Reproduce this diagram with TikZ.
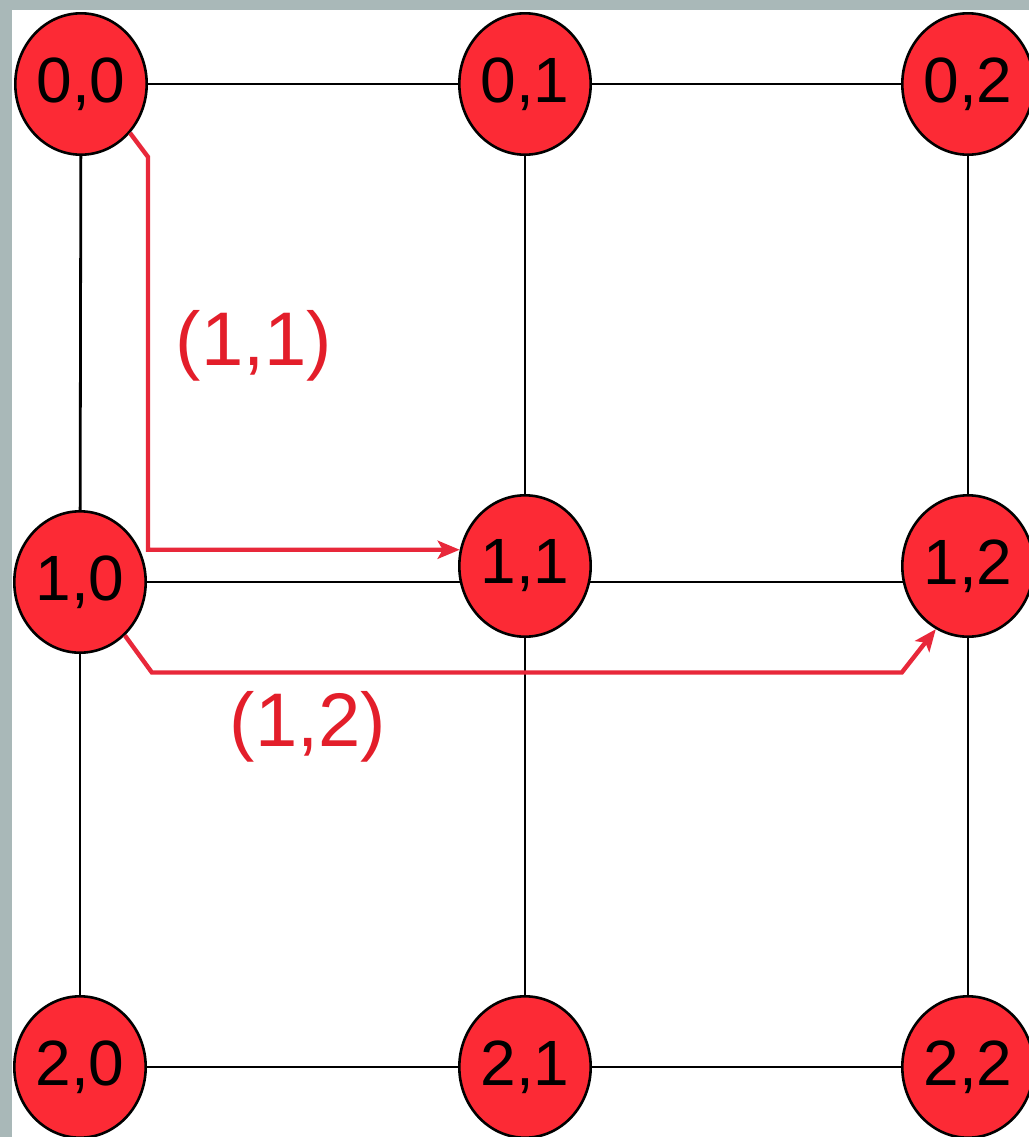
\documentclass[tikz,border=0pt]{standalone}
\usepackage{fontspec}
\setmainfont{Liberation Sans}
\usetikzlibrary{shapes.geometric,arrows.meta,calc,backgrounds}
\definecolor{framegray}{HTML}{A9B8B8}
\definecolor{nodered}{HTML}{FC2A35}
\definecolor{pathred}{HTML}{E8283A}
\definecolor{labelred}{HTML}{E31E2A}
\tikzset{
  cell/.style={ellipse, draw=black, line width=1.3pt, fill=nodered,
    minimum width=65.7pt, minimum height=70.7pt, inner sep=0pt,
    font=\fontsize{32}{32}\selectfont},
  grid/.style={draw=black, line width=1.4pt},
  rpath/.style={draw=pathred, line width=2.2pt, line join=miter,
    -{Stealth[length=11pt,width=9pt,inset=2.5pt]}},
  rlabel/.style={text=labelred, font=\fontsize{38}{38}\selectfont, inner sep=0pt}
}
\begin{document}
\begin{tikzpicture}[x=0.5pt,y=-0.5pt]
\useasboundingbox (0,0) rectangle (1029,1137);

\node[cell] (n00) at (81,84)   {0,0};
\node[cell] (n01) at (525,84)  {0,1};
\node[cell] (n02) at (968,84)  {0,2};
\node[cell] (n10) at (80,582)  {1,0};
\node[cell] (n11) at (525,566) {1,1};
\node[cell] (n12) at (968,566) {1,2};
\node[cell] (n20) at (80,1067) {2,0};
\node[cell] (n21) at (525,1067){2,1};
\node[cell] (n22) at (968,1067){2,2};

\node[rlabel] (l11) at (254,346) {(1,1)};
\node[rlabel] (l12) at (308,727) {(1,2)};

\begin{scope}[on background layer]
  \fill[framegray] (0,0) rectangle (1029,1137);
  \fill[white] (12,10) rectangle (1029,1137);
  \draw[grid] (n00) -- (n01);
  \draw[grid] (n01) -- (n02);
  \draw[grid] (n20) -- (n21);
  \draw[grid] (n21) -- (n22);
  \draw[grid] (n10) -- (n10 -| n11);
  \draw[grid] (n10 -| n11) -- (n10 -| n12);
  \draw[grid] (n00) -- (n10);
  \draw[grid] (n10) -- (n20);
  \draw[grid] (n01) -- (n11);
  \draw[grid] (n11) -- (n21);
  \draw[grid] (n02) -- (n12);
  \draw[grid] (n12) -- (n22);
\end{scope}

\draw[rpath] (n00.-45) -- ++(18,24) coordinate (a1) |- (n11.166);
\coordinate (c2) at ($(n12.243)+(-34,0)$);
\draw[rpath] (n10.-50) -- ++(27,37) coordinate (b1) -- (b1 -| c2) -- (n12.243);
\end{tikzpicture}
\end{document}
